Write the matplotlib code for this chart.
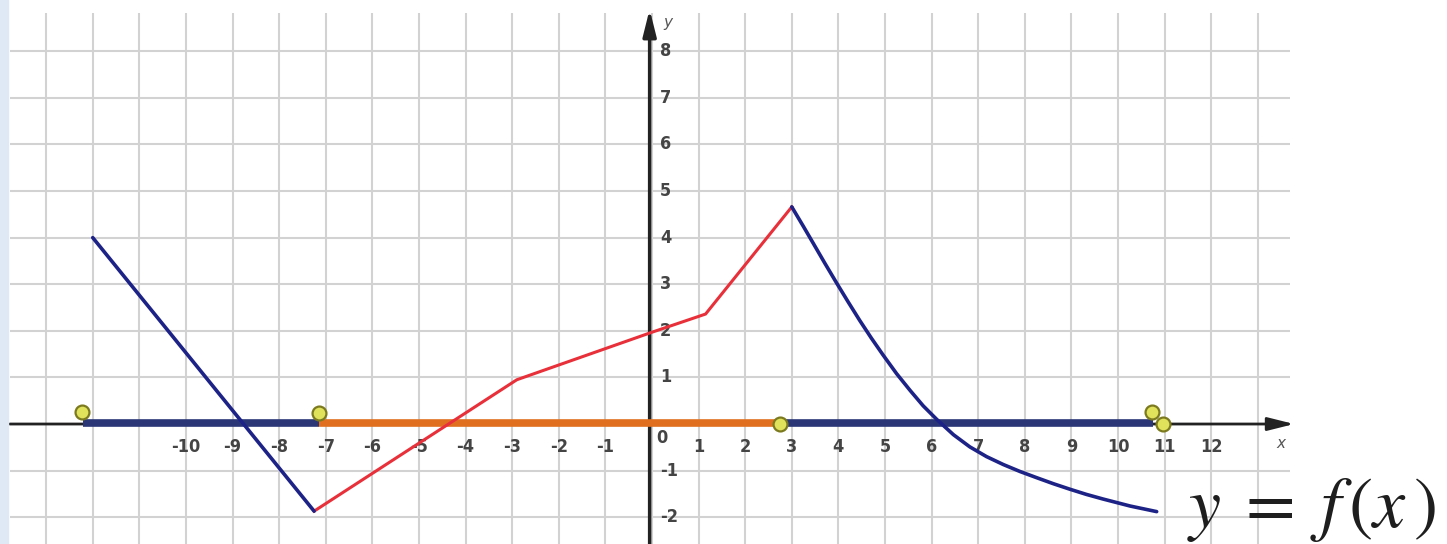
import matplotlib
matplotlib.use("Agg")
import matplotlib.pyplot as plt
from matplotlib.patches import Rectangle

# --- data -------------------------------------------------------------
# left descending segment of f
blue_left_x = [-12.0, -7.25]
blue_left_y = [4.0, -1.87]

# middle (increasing) part of f
red_x = [-7.25, -2.9, 0.0, 1.15, 3.0]
red_y = [-1.87, 0.95, 1.97, 2.36, 4.66]

# right (decreasing) part of f
blue_right_x = [3.00, 3.25, 3.46, 3.71, 3.96, 4.21, 4.46, 4.71, 4.96, 5.25,
                5.54, 5.82, 6.11, 6.47, 6.82, 7.18, 7.54, 7.90, 8.25, 8.61,
                8.97, 9.32, 9.68, 10.26, 10.83]
blue_right_y = [4.66, 4.24, 3.88, 3.45, 3.03, 2.62, 2.22, 1.84, 1.48, 1.08,
                0.72, 0.39, 0.10, -0.23, -0.49, -0.70, -0.87, -1.02, -1.15, -1.28,
                -1.40, -1.51, -1.61, -1.76, -1.88]

# intervals marked on the x axis
decr_intervals = [(-12.2, -7.15), (2.75, 10.75)]
incr_interval = (-7.15, 2.75)

# open endpoints
pts_x = [-12.24, -7.15, 2.75, 10.72, 10.97]
pts_y = [0.26, 0.24, 0.0, 0.26, 0.0]

x_ticks = [-10, -9, -8, -7, -6, -5, -4, -3, -2, -1, 1, 2, 3, 4, 5, 6, 7, 8, 9, 10, 11, 12]
y_ticks = [-2, -1, 1, 2, 3, 4, 5, 6, 7, 8]
grid_x = list(range(-13, 14))
grid_y = list(range(-2, 9))

# --- figure -----------------------------------------------------------
plt.rcParams["mathtext.fontset"] = "stix"
fig = plt.figure(figsize=(14.47, 5.44), dpi=100)
ax = fig.add_axes([0, 0, 1, 1])
ax.set_xlim(-13.99, 17.06)
ax.set_ylim(-2.575, 9.1)
ax.axis("off")

fig.patches.append(Rectangle((0, 0), 8 / 1447, 1, transform=fig.transFigure,
                             color="#dfe8f5", zorder=0))

grid_c = "#d2d2d2"
ax.vlines(grid_x, -2.6, 8.82, color=grid_c, lw=1.5, zorder=1)
ax.hlines(grid_y, -13.78, 13.69, color=grid_c, lw=1.5, zorder=1)

# axes with arrows
ax.annotate("", xy=(13.78, 0), xytext=(-13.78, 0),
            arrowprops=dict(arrowstyle="-|>,head_length=0.8,head_width=0.2",
                            lw=2.0, color="#222222", mutation_scale=20,
                            shrinkA=0, shrinkB=0), zorder=2)
ax.annotate("", xy=(-0.05, 8.9), xytext=(-0.05, -2.6),
            arrowprops=dict(arrowstyle="-|>,head_length=0.8,head_width=0.2",
                            lw=2.5, color="#222222", mutation_scale=20,
                            shrinkA=0, shrinkB=0), zorder=2)

lab_font = dict(family="DejaVu Sans", fontstretch="condensed",
                fontsize=13, fontweight="bold", color="#444444")
ax.text(13.5, -0.42, "x", fontsize=11, color="#555555", style="italic",
        ha="center", va="center", zorder=3)
ax.text(0.35, 8.62, "y", fontsize=11, color="#555555", style="italic",
        ha="center", va="center", zorder=3)

for t in x_ticks:
    ax.text(t, -0.5, f"{t}", ha="center", va="center", zorder=3, **lab_font)
ax.text(0.22, -0.3, "0", ha="center", va="center", zorder=3, **lab_font)
for t in y_ticks:
    ax.text(0.17, t, f"{t}", ha="left", va="center", zorder=3, **lab_font)

# marked intervals on the x axis
for a, b in decr_intervals:
    ax.plot([a, b], [0.03, 0.03], color="#2b3676", lw=5.5, solid_capstyle="butt", zorder=4)
ax.plot(list(incr_interval), [0.03, 0.03], color="#e0701f", lw=5.5,
        solid_capstyle="butt", zorder=4)

# graph of f
ax.plot(red_x, red_y, color="#e8303a", lw=2.2, zorder=5, solid_joinstyle="miter")
ax.plot(blue_left_x, blue_left_y, color="#1d2386", lw=2.6, zorder=5,
        solid_capstyle="round")
ax.plot(blue_right_x, blue_right_y, color="#1d2386", lw=2.6, zorder=5,
        solid_capstyle="round", solid_joinstyle="round")

ax.plot(pts_x, pts_y, "o", ms=10, mfc="#dfe25a", mec="#7c7a1e", mew=1.6, zorder=6)

ax.text(11.48, -2.2, r"$y\;=\;f\,(x\,)$", fontsize=52, color="#1e1e1e",
        ha="left", va="baseline", zorder=6)

fig.savefig("out.png", dpi=100)
